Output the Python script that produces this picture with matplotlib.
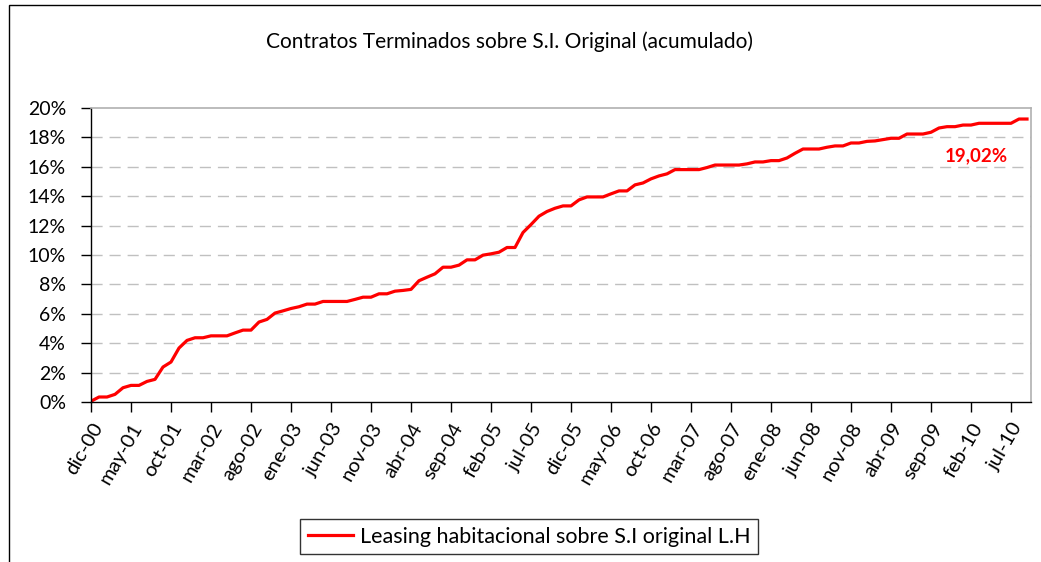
import matplotlib.pyplot as plt
from matplotlib.patches import Rectangle

# meses en castellano, serie mensual desde dic-00
meses = ['ene', 'feb', 'mar', 'abr', 'may', 'jun', 'jul', 'ago', 'sep', 'oct', 'nov', 'dic']
mes_inicio = 11
anio_inicio = 2000

# % acumulado de contratos terminados
valores = [
    0.05, 0.34, 0.34, 0.52, 0.97, 1.13, 1.13, 1.40, 1.54, 2.38,
    2.72, 3.67, 4.19, 4.37, 4.37, 4.50, 4.50, 4.50, 4.70, 4.89,
    4.89, 5.44, 5.62, 6.05, 6.20, 6.36, 6.48, 6.66, 6.66, 6.84,
    6.84, 6.84, 6.84, 6.98, 7.13, 7.13, 7.36, 7.36, 7.54, 7.59,
    7.66, 8.25, 8.49, 8.72, 9.17, 9.17, 9.31, 9.67, 9.67, 9.99,
    10.08, 10.19, 10.51, 10.51, 11.53, 12.07, 12.64, 12.96, 13.18, 13.34,
    13.34, 13.75, 13.95, 13.95, 13.95, 14.16, 14.36, 14.36, 14.77, 14.90,
    15.18, 15.38, 15.52, 15.81, 15.81, 15.81, 15.81, 15.95, 16.12, 16.12,
    16.12, 16.12, 16.20, 16.33, 16.33, 16.42, 16.42, 16.60, 16.92, 17.21,
    17.21, 17.21, 17.33, 17.42, 17.42, 17.62, 17.62, 17.73, 17.76, 17.85,
    17.94, 17.94, 18.23, 18.23, 18.23, 18.35, 18.64, 18.73, 18.73, 18.84,
    18.84, 18.96, 18.96, 18.96, 18.96, 18.96, 19.25, 19.25,
]
etiquetas = ["%s-%02d" % (meses[(mes_inicio + i) % 12], (anio_inicio + (mes_inicio + i) // 12) % 100)
             for i in range(len(valores))]
serie = "Leasing habitacional sobre S.I original L.H"
titulo = "Contratos Terminados sobre S.I. Original (acumulado)"
etiqueta_final = "19,02%"

plt.rcParams['font.family'] = ['Lato', 'DejaVu Sans']

W, H = 1041, 562
fig = plt.figure(figsize=(W / 100, H / 100), dpi=100)
fig.patch.set_facecolor('white')

# marco exterior del grafico
fig.add_artist(Rectangle((9 / W, -0.1), 1.2, 1 - 5 / H + 0.1, transform=fig.transFigure,
                         fill=False, edgecolor='black', linewidth=1.0))

ax = fig.add_axes([91 / W, 1 - 402 / H, (1031 - 91) / W, (402 - 108) / H])
x = list(range(len(valores)))
line, = ax.plot(x, valores, color='#ff0000', linewidth=2.3, solid_joinstyle='round', label=serie)

ax.set_xlim(0, 117.5)
ax.set_ylim(0, 20)
ax.set_yticks(range(0, 21, 2))
ax.set_yticklabels(["%d%%" % v for v in range(0, 21, 2)], fontsize=14)
for v in range(2, 20, 2):
    ax.axhline(v, color='#c0c0c0', linewidth=1.0, linestyle=(0, (8, 5)), zorder=0)

pos = list(range(0, len(valores), 5))
ax.set_xticks(pos)
ax.set_xticklabels([etiquetas[p] for p in pos], rotation=60, ha='right', va='top',
                   rotation_mode='anchor', fontsize=14.5)
ax.tick_params(axis='x', length=7, width=1, pad=6, direction='out')
ax.tick_params(axis='y', length=7, width=1, pad=11, direction='out')

for s in ['top', 'right']:
    ax.spines[s].set_color('#b0b0b0')
    ax.spines[s].set_linewidth(1.2)
for s in ['left', 'bottom']:
    ax.spines[s].set_color('black')
    ax.spines[s].set_linewidth(1.0)

ax.text(110.6, 16.75, etiqueta_final, color='#ff0000', fontsize=13.5, fontweight='bold',
        ha='center', va='center')

fig.text(510 / W, 1 - 42 / H, titulo, ha='center', va='center', fontsize=15)

leg = fig.legend(handles=[line], loc='upper left', bbox_to_anchor=(300 / W, 1 - 519 / H),
                 fontsize=15.5, frameon=True, fancybox=False, handlelength=2.1,
                 handletextpad=0.35, borderpad=0.35, borderaxespad=0)
leg.get_frame().set_edgecolor('black')
leg.get_frame().set_linewidth(1.0)

fig.savefig('out.png', dpi=100)
